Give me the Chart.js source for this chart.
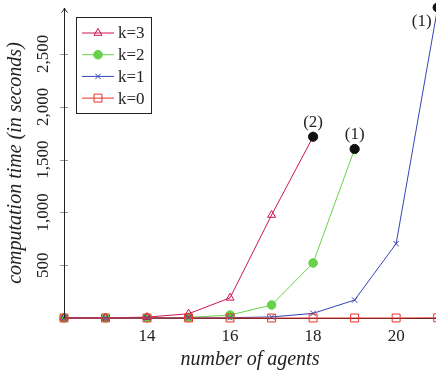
<!DOCTYPE html>
<html>
<head>
<meta charset="utf-8">
<script src="https://cdn.jsdelivr.net/npm/chart.js@4/dist/chart.umd.min.js"></script>
<style>
  html, body { margin: 0; padding: 0; background: #fff; }
  #wrap { width: 436px; height: 375px; position: relative; }
</style>
</head>
<body>
<div id="wrap"><canvas id="chart"></canvas></div>
<script>
// number of agents on the x axis
const agents = [12, 13, 14, 15, 16, 17, 18, 19, 20, 21];

// computation time in seconds for each k (series stop where runs time out)
const timeK3 = [2, 2, 8, 40, 191, 975, 1716];
const timeK2 = [1, 1, 2, 6, 28, 123, 521, 1600];
const timeK1 = [0, 0, 1, 1, 3, 10, 44, 170, 704, 2940];
const timeK0 = [0, 0, 0, 0, 0, 0, 0, 0, 0, 2];

const seriesNames = ['k=3', 'k=2', 'k=1', 'k=0'];

// last measured runs, annotated with the number of timeouts
const timeoutAgents = [18, 19, 21];
const timeoutTimes = [1716, 1600, 2940];
const timeoutNotes = ['(2)', '(1)', '(1)'];

const xTickValues = [14, 16, 18, 20];
const yTickValues = [500, 1000, 1500, 2000, 2500];

const SERIF = '"Liberation Serif", "DejaVu Serif", serif';
const colK3 = '#cc1452';
const colK2 = '#66d24a';
const colK1 = '#3445b4';
const colK0 = '#e8332a';

function pairs(values) {
  return values.map((v, i) => ({ x: agents[i], y: v }));
}

const styles = [
  { color: colK3, pointStyle: 'triangle', radius: 4.6, fill: 'rgba(0,0,0,0)', order: 4 },
  { color: colK2, pointStyle: 'circle', radius: 4.3, fill: colK2, order: 5 },
  { color: colK1, pointStyle: 'crossRot', radius: 3.8, fill: colK1, order: 3 },
  { color: colK0, pointStyle: 'rect', radius: 5.6, fill: 'rgba(0,0,0,0)', order: 2 }
];
const seriesData = [timeK3, timeK2, timeK1, timeK0];

const datasets = seriesData.map((vals, i) => ({
  label: seriesNames[i],
  data: pairs(vals),
  borderColor: styles[i].color,
  backgroundColor: styles[i].fill,
  borderWidth: 1,
  pointStyle: styles[i].pointStyle,
  pointRadius: styles[i].radius,
  pointHoverRadius: styles[i].radius,
  pointBorderWidth: 1,
  pointBorderColor: styles[i].color,
  pointBackgroundColor: styles[i].fill,
  tension: 0,
  clip: false,
  order: styles[i].order
}));

datasets.push({
  type: 'scatter',
  label: 'timeouts',
  data: timeoutAgents.map((a, i) => ({ x: a, y: timeoutTimes[i] })),
  pointStyle: 'circle',
  pointRadius: 4.6,
  pointBackgroundColor: '#111',
  pointBorderColor: '#111',
  showLine: false,
  clip: false,
  order: 0
});

// axis decorations: arrow head on the y axis and small ticks crossing the axis
const axisDecor = {
  id: 'axisDecor',
  afterDraw(chart) {
    const { ctx, chartArea, scales } = chart;
    const x0 = scales.x.left;
    const y0 = scales.y.bottom;
    ctx.save();
    ctx.strokeStyle = '#999';
    ctx.lineWidth = 1;
    scales.y.ticks.forEach(t => {
      if (t.value === 0) return;
      const py = Math.round(scales.y.getPixelForValue(t.value)) + 0.5;
      ctx.beginPath();
      ctx.moveTo(x0 - 4, py);
      ctx.lineTo(x0 + 4, py);
      ctx.stroke();
    });
    ctx.strokeStyle = '#222';
    const ax = Math.round(x0) + 0.5;
    ctx.beginPath();
    ctx.moveTo(ax, y0);
    ctx.lineTo(ax, chartArea.top);
    ctx.stroke();
    ctx.beginPath();
    ctx.moveTo(ax - 3, chartArea.top + 4.5);
    ctx.quadraticCurveTo(ax - 0.5, chartArea.top + 2, ax, chartArea.top);
    ctx.quadraticCurveTo(ax + 0.5, chartArea.top + 2, ax + 3, chartArea.top + 4.5);
    ctx.stroke();
    ctx.restore();
  }
};

// notes next to the timed-out points
const timeoutLabels = {
  id: 'timeoutLabels',
  afterDatasetsDraw(chart) {
    const meta = chart.getDatasetMeta(datasets.length - 1);
    const { ctx } = chart;
    ctx.save();
    ctx.font = '17px ' + SERIF;
    ctx.fillStyle = '#222';
    ctx.textAlign = 'center';
    ctx.textBaseline = 'middle';
    meta.data.forEach((pt, i) => {
      const last = i === meta.data.length - 1;
      const dx = last ? -16 : 0;
      const dy = last ? 14 : -14;
      ctx.fillText(timeoutNotes[i], pt.x + dx, pt.y + dy);
    });
    ctx.restore();
  }
};

// framed legend with line samples and markers
const boxLegend = {
  id: 'boxLegend',
  afterDraw(chart) {
    const { ctx } = chart;
    const left = 76.5, top = 17.5, w = 75, h = 96;
    ctx.save();
    ctx.fillStyle = '#fff';
    ctx.fillRect(left, top, w, h);
    ctx.strokeStyle = '#222';
    ctx.lineWidth = 1;
    ctx.strokeRect(left, top, w, h);
    ctx.font = '17px ' + SERIF;
    ctx.textBaseline = 'middle';
    ctx.textAlign = 'left';
    for (let i = 0; i < seriesNames.length; i++) {
      const ds = datasets[i];
      const cy = 33 + i * 21.7;
      ctx.strokeStyle = ds.borderColor;
      ctx.lineWidth = 1;
      ctx.beginPath();
      ctx.moveTo(82, cy);
      ctx.lineTo(114, cy);
      ctx.stroke();
      ctx.fillStyle = ds.pointBackgroundColor;
      ctx.strokeStyle = ds.pointBorderColor;
      Chart.helpers.drawPoint(ctx, {
        pointStyle: ds.pointStyle, radius: ds.pointRadius, rotation: 0, borderWidth: 1
      }, 98, cy);
      ctx.fillStyle = '#222';
      ctx.fillText(ds.label, 118, cy + 1);
    }
    ctx.restore();
  }
};

new Chart(document.getElementById('chart'), {
  type: 'line',
  data: { datasets },
  plugins: [axisDecor, timeoutLabels, boxLegend],
  options: {
    responsive: true,
    maintainAspectRatio: false,
    animation: false,
    layout: { autoPadding: false, padding: { top: 8, right: 0, left: 0, bottom: 0 } },
    plugins: { legend: { display: false }, tooltip: { enabled: false } },
    scales: {
      x: {
        type: 'linear',
        min: 12,
        max: 20.96,
        afterBuildTicks(scale) {
          scale.ticks = xTickValues.map(v => ({ value: v }));
        },
        afterFit(scale) {
          scale.height = 57;
          scale.paddingLeft = 0;
          scale.paddingRight = 0;
        },
        grid: { drawOnChartArea: false, drawTicks: false, display: false },
        border: { display: true, color: '#222', width: 1 },
        ticks: {
          font: { family: SERIF, size: 17 },
          color: '#222',
          padding: 8,
          maxRotation: 0,
          autoSkip: false
        },
        title: {
          display: true,
          text: 'number of agents',
          font: { family: SERIF, size: 20, style: 'italic' },
          color: '#222',
          padding: { top: 0, bottom: 3 }
        }
      },
      y: {
        type: 'linear',
        min: 0,
        max: 2935,
        afterBuildTicks(scale) {
          scale.ticks = yTickValues.map(v => ({ value: v }));
        },
        afterFit(scale) {
          scale.width = 64;
          scale.paddingTop = 0;
          scale.paddingBottom = 0;
        },
        grid: { drawOnChartArea: false, drawTicks: false, display: false },
        border: { display: false },
        ticks: {
          font: { family: SERIF, size: 17 },
          color: '#222',
          padding: 1,
          minRotation: 90,
          maxRotation: 90,
          crossAlign: 'center',
          autoSkip: false,
          callback: v => v.toLocaleString('en-US')
        },
        title: {
          display: true,
          text: 'computation time (in seconds)',
          font: { family: SERIF, size: 20, style: 'italic' },
          color: '#222',
          padding: { top: 4, bottom: 0 }
        }
      }
    }
  }
});
</script>
</body>
</html>
